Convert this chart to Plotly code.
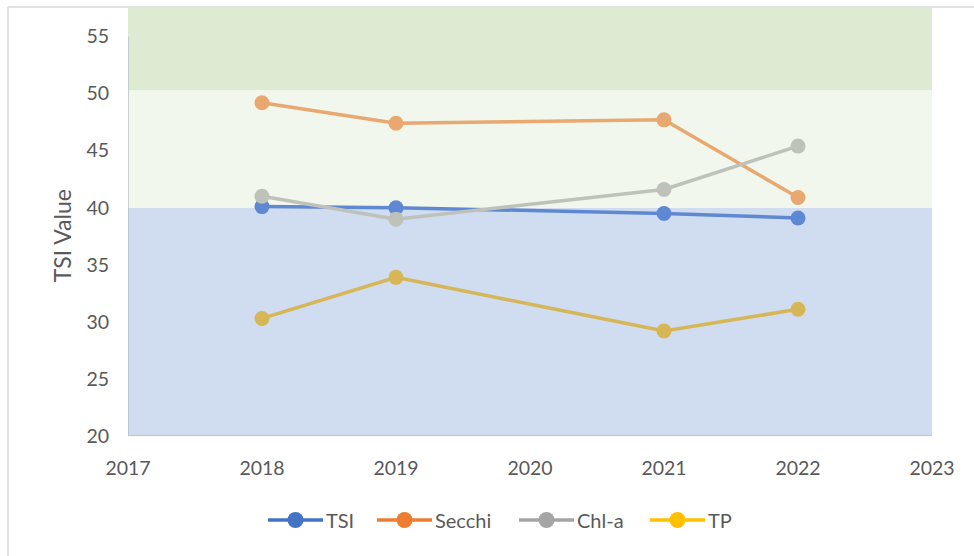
import plotly.graph_objects as go

# Trophic State Index by year
years = [2018, 2019, 2021, 2022]
tsi = [40.1, 40.0, 39.5, 39.1]
secchi = [49.2, 47.4, 47.7, 40.9]
chla = [41.0, 39.0, 41.6, 45.4]
tp = [30.3, 33.9, 29.2, 31.1]

series_names = ["TSI", "Secchi", "Chl-a", "TP"]
line_colors = ["#5f88d2", "#e8a870", "#bec2bb", "#d6b655"]
legend_colors = ["#4472c4", "#ed7d31", "#a5a5a5", "#ffc000"]

x_ticks = [2017, 2018, 2019, 2020, 2021, 2022, 2023]
y_ticks = [20, 25, 30, 35, 40, 45, 50, 55]

# trophic bands: (lower, upper, fill)
bands = [
    (20, 40, "#d0dcef"),
    (40, 50.3, "#f1f7ec"),
    (50.3, 57.5, "#dcebd1"),
]

FONT = "Lato, 'Open Sans', sans-serif"
TEXT = "#595959"

# plot-area geometry in pixels
W, H = 974, 556
ML, MR, MT, MB = 128, 42, 8, 120
PW, PH = W - ML - MR, H - MT - MB


def px_x(px):
    return (px - ML) / PW


def px_y(py):
    return (H - MB - py) / PH


fig = go.Figure()

for lo, hi, col in bands:
    fig.add_shape(type="rect", xref="x", yref="y", x0=2017, x1=2023, y0=lo, y1=hi,
                  fillcolor=col, line=dict(width=0), layer="below")

for name, vals, col in zip(series_names, [tsi, secchi, chla, tp], line_colors):
    fig.add_trace(go.Scatter(
        x=years, y=vals, mode="lines+markers", name=name, showlegend=False,
        line=dict(color=col, width=3.5),
        marker=dict(color=col, size=15),
        hoverinfo="x+y",
    ))

# axis lines
fig.add_shape(type="line", xref="x", yref="y", x0=2017, x1=2023, y0=20, y1=20,
              line=dict(color="#b4bccb", width=1.5))
fig.add_shape(type="line", xref="x", yref="y", x0=2017, x1=2017, y0=20, y1=55,
              line=dict(color="#b9c2c9", width=1.5))

# chart border (top and left edges)
fig.add_shape(type="line", xref="paper", yref="paper",
              x0=px_x(8), x1=1.2, y0=px_y(7), y1=px_y(7),
              line=dict(color="#d9d9d9", width=1.5))
fig.add_shape(type="line", xref="paper", yref="paper",
              x0=px_x(8), x1=px_x(8), y0=px_y(7), y1=-0.4,
              line=dict(color="#d9d9d9", width=1.5))

# y-axis title, centred on the 20–55 tick span
fig.add_annotation(text="TSI Value", xref="paper", yref="y", x=px_x(62), y=37.5,
                   xanchor="center", yanchor="middle", textangle=-90, showarrow=False,
                   font=dict(family=FONT, size=23, color=TEXT))

# legend row below the plot: line-with-marker key followed by the series name
legend_y = px_y(520)
entry_left = [268, 377, 519, 650]
for name, col, left in zip(series_names, legend_colors, entry_left):
    fig.add_shape(type="line", xref="paper", yref="paper",
                  xsizemode="pixel", ysizemode="pixel",
                  xanchor=px_x(left), yanchor=legend_y,
                  x0=0, x1=55, y0=0, y1=0,
                  line=dict(color=col, width=3.5))
    fig.add_shape(type="circle", xref="paper", yref="paper",
                  xsizemode="pixel", ysizemode="pixel",
                  xanchor=px_x(left + 27.5), yanchor=legend_y,
                  x0=-8, x1=8, y0=-8, y1=8,
                  fillcolor=col, line=dict(width=0))
    fig.add_annotation(text=name, xref="paper", yref="paper",
                       x=px_x(left + 57), y=legend_y, xanchor="left", yanchor="middle",
                       showarrow=False, borderpad=0,
                       font=dict(family=FONT, size=20, color=TEXT))

fig.update_layout(
    width=W, height=H,
    margin=dict(l=ML, r=MR, t=MT, b=MB),
    paper_bgcolor="white", plot_bgcolor="white",
    font=dict(family=FONT, color=TEXT, size=20),
    showlegend=False,
    xaxis=dict(range=[2017, 2023], tickvals=x_ticks, ticktext=[str(v) for v in x_ticks],
               showgrid=False, zeroline=False, showline=False, ticks="",
               ticklabelstandoff=18, tickfont=dict(size=19.5, color=TEXT)),
    yaxis=dict(range=[20, 57.5], tickvals=y_ticks, showgrid=False, zeroline=False,
               showline=False, ticks="", ticklabelstandoff=18,
               tickfont=dict(size=19.5, color=TEXT)),
)

fig.write_html("out.html")
